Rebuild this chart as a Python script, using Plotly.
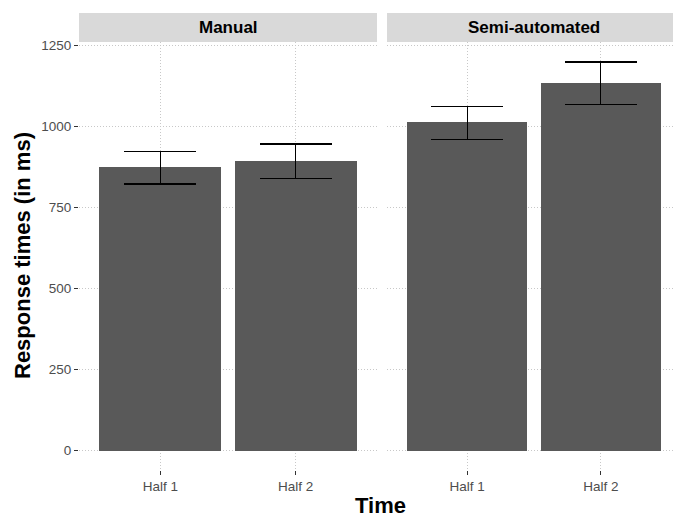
import plotly.graph_objects as go
from plotly.subplots import make_subplots

panels = ["Manual", "Semi-automated"]
categories = ["Half 1", "Half 2"]
means = {"Manual": [873, 892], "Semi-automated": [1012, 1133]}
upper = {"Manual": [923, 945], "Semi-automated": [1062, 1198]}
lower = {"Manual": [822, 840], "Semi-automated": [960, 1067]}
y_ticks = [0, 250, 500, 750, 1000, 1250]

# page body has an 8px margin, so figure is sized to fit the window
W, H = 673, 510
L, R, T, B = 71, 0, 34, 48
pw = W - L - R
ph = H - T - B
d1 = [0, 298 / pw]
d2 = [(379 - L) / pw, 1]

fig = make_subplots(rows=1, cols=2, shared_yaxes=True, horizontal_spacing=d2[0] - d1[1])

for i, p in enumerate(panels):
    m = means[p]
    fig.add_trace(go.Bar(
        x=categories, y=m, width=0.9, marker_color="#595959", marker_line_width=0,
        error_y=dict(type="data", symmetric=False,
                     array=[u - v for u, v in zip(upper[p], m)],
                     arrayminus=[v - l for v, l in zip(m, lower[p])],
                     color="black", thickness=1.3, width=36),
        showlegend=False), row=1, col=i + 1)

axfont = dict(family="Liberation Sans, Arial", size=13.5, color="#4d4d4d")
for i in range(2):
    fig.update_xaxes(range=[-0.6, 1.6], showgrid=True, gridcolor="#c8c8c8", griddash="1px,2px",
                     gridwidth=1, ticks="outside", ticklen=4, tickcolor="#333333",
                     tickfont=axfont, showline=False, zeroline=False, row=1, col=i + 1)
    fig.update_yaxes(range=[-60, 1260], tickvals=y_ticks, showgrid=True, gridcolor="#c8c8c8",
                     griddash="1px,2px", gridwidth=1, zeroline=False, showline=False,
                     row=1, col=i + 1)
fig.update_yaxes(ticks="outside", ticklen=4, tickcolor="#333333", tickfont=axfont, row=1, col=1)
fig.update_layout(xaxis_domain=d1, xaxis2_domain=d2)

for i, (p, d) in enumerate(zip(panels, [d1, d2])):
    fig.add_shape(type="rect", xref="paper", yref="paper", x0=d[0], x1=d[1],
                  y0=1, y1=1 + 29 / ph, fillcolor="#d9d9d9", line_width=0)
    fig.add_annotation(text="<b>" + p + "</b>", xref="paper", yref="paper",
                       x=(d[0] + d[1]) / 2, y=1 + 14.5 / ph, showarrow=False,
                       xanchor="center", yanchor="middle",
                       font=dict(family="Liberation Sans, Arial", size=17, color="black"))

fig.add_annotation(text="<b>Time</b>", xref="paper", yref="paper", x=(372 - L) / pw,
                   y=-(498 - (H - B)) / ph, showarrow=False, xanchor="center", yanchor="middle",
                   font=dict(family="Liberation Sans, Arial", size=22, color="black"))
fig.add_annotation(text="<b>Response times (in ms)</b>", xref="paper", yref="paper",
                   x=-(L - 14) / pw, y=0.5, showarrow=False, textangle=-90,
                   xanchor="center", yanchor="middle",
                   font=dict(family="Liberation Sans, Arial", size=22, color="black"))

fig.update_layout(width=W, height=H, margin=dict(l=L, r=R, t=T, b=B),
                  plot_bgcolor="white", paper_bgcolor="white", bargap=0)
fig.write_html("out.html")
